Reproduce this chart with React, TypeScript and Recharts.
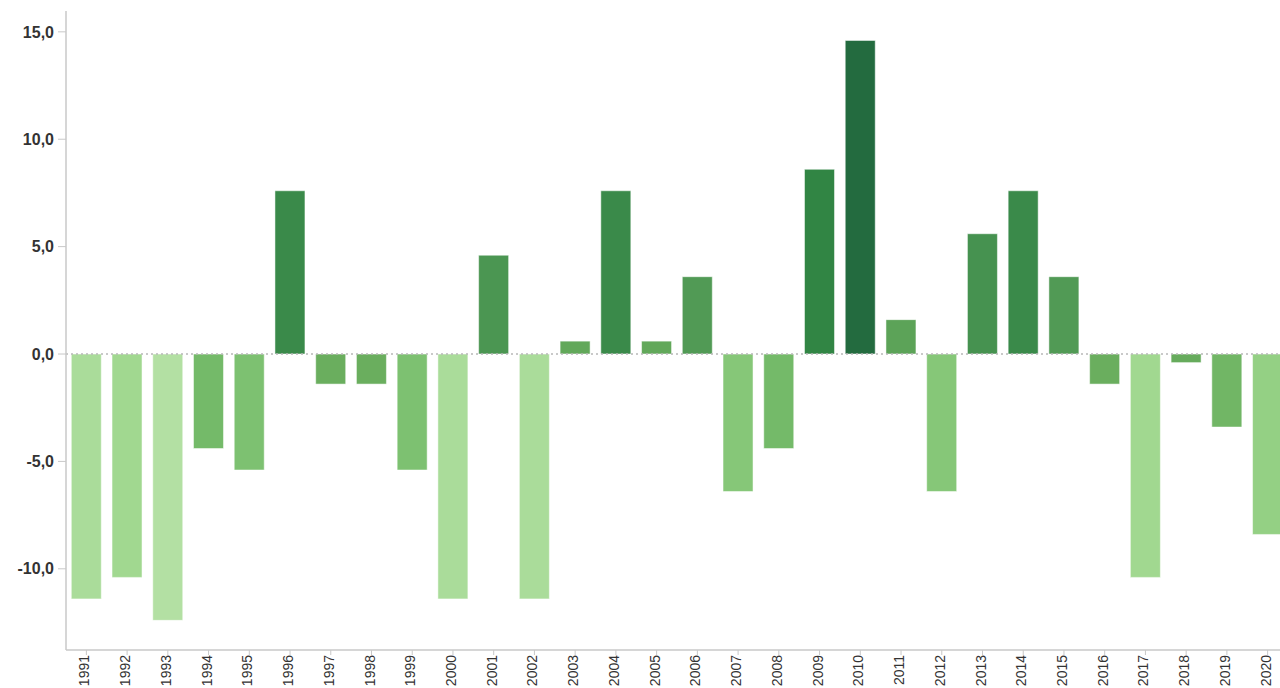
import React from 'react';
import { BarChart, Bar, XAxis, YAxis, ReferenceLine, Cell } from 'recharts';

const years = [
  '1991','1992','1993','1994','1995','1996','1997','1998','1999','2000',
  '2001','2002','2003','2004','2005','2006','2007','2008','2009','2010',
  '2011','2012','2013','2014','2015','2016','2017','2018','2019','2020',
];
const values = [
  -11.4, -10.4, -12.4, -4.4, -5.4, 7.6, -1.4, -1.4, -5.4, -11.4,
  4.6, -11.4, 0.6, 7.6, 0.6, 3.6, -6.4, -4.4, 8.6, 14.6,
  1.6, -6.4, 5.6, 7.6, 3.6, -1.4, -10.4, -0.4, -3.4, -8.4,
];
const yTicks = [-10, -5, 0, 5, 10, 15];

const colorStops: [number, string][] = [
  [-12.4, '#b3e0a3'],
  [-10.4, '#a1d890'],
  [-6.4, '#86c778'],
  [-4.4, '#74ba69'],
  [-1.4, '#6aae5e'],
  [0.6, '#62a85a'],
  [3.6, '#519a55'],
  [7.6, '#3a8a4a'],
  [8.6, '#318544'],
  [14.6, '#236b3f'],
];

function hexToRgb(h: string) {
  const n = parseInt(h.slice(1), 16);
  return [(n >> 16) & 255, (n >> 8) & 255, n & 255];
}
function colorFor(v: number): string {
  if (v <= colorStops[0][0]) return colorStops[0][1];
  for (let i = 1; i < colorStops.length; i++) {
    const [v1, c1] = colorStops[i];
    const [v0, c0] = colorStops[i - 1];
    if (v <= v1) {
      const t = (v - v0) / (v1 - v0);
      const a = hexToRgb(c0);
      const b = hexToRgb(c1);
      const m = a.map((x, k) => Math.round(x + (b[k] - x) * t));
      return `rgb(${m[0]},${m[1]},${m[2]})`;
    }
  }
  return colorStops[colorStops.length - 1][1];
}

const data = years.map((y, i) => ({ year: y, value: values[i] }));

const fmt = (v: number) => v.toFixed(1).replace('.', ',');

const XTick = (props: any) => {
  const { x, payload } = props;
  return (
    <text
      x={0}
      y={0}
      transform={`translate(${x - 2},655) rotate(-90)`}
      textAnchor="end"
      dominantBaseline="central"
      fontFamily="Arial, 'Liberation Sans', sans-serif"
      fontSize={14}
      fill="#333"
    >
      {payload.value}
    </text>
  );
};

export default function App() {
  return (
    <div style={{ position: 'fixed', left: 0, top: 0, width: 1280, height: 688, overflow: 'hidden', background: '#fff' }}>
      <BarChart
        width={1300}
        height={688}
        data={data}
        margin={{ top: 11, right: 12, bottom: 0, left: 0 }}
        barCategoryGap="13%"
      >
        <XAxis
          xAxisId="top"
          orientation="top"
          dataKey="year"
          height={0}
          tick={false}
          tickLine={false}
          axisLine={{ stroke: '#c8c8c8', strokeWidth: 1.5 }}
        />
        <XAxis
          dataKey="year"
          height={38}
          interval={0}
          tick={<XTick />}
          tickSize={5}
          tickLine={{ stroke: '#c8c8c8' }}
          axisLine={{ stroke: '#c8c8c8', strokeWidth: 1.5 }}
        />
        <YAxis
          width={66}
          domain={[-13.78, 15.97]}
          ticks={yTicks}
          tickFormatter={fmt}
          tickSize={8}
          tickMargin={4}
          tickLine={{ stroke: '#c8c8c8' }}
          axisLine={{ stroke: '#c8c8c8', strokeWidth: 1.5 }}
          tick={{ fill: '#333', fontSize: 16, fontWeight: 'bold', fontFamily: "Arial, 'Liberation Sans', sans-serif" }}
          allowDataOverflow
        />
        <ReferenceLine y={0} stroke="#b8b8b8" strokeDasharray="2 3" strokeWidth={1.5} />
        <Bar dataKey="value" isAnimationActive={false} stroke="#ffffff" strokeOpacity={0.5} strokeWidth={1}>
          {data.map((d, i) => (
            <Cell key={i} fill={colorFor(d.value)} />
          ))}
        </Bar>
      </BarChart>
    </div>
  );
}
